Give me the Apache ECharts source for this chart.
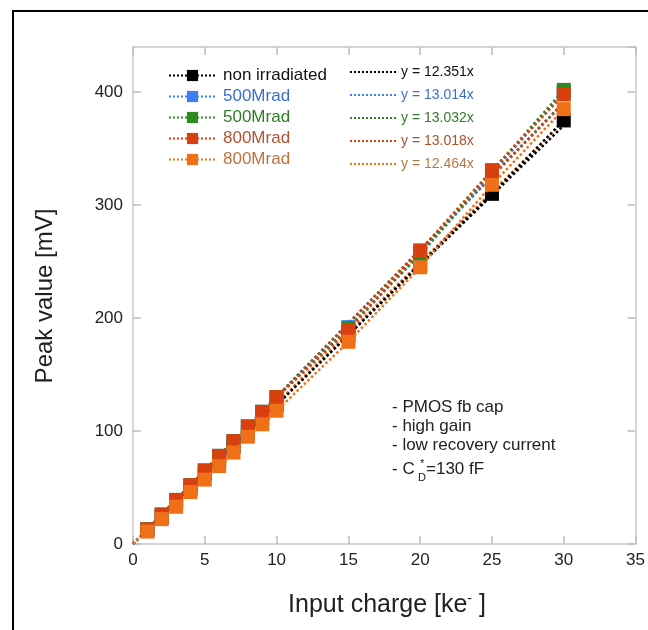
<!DOCTYPE html>
<html><head><meta charset="utf-8">
<script src="https://cdn.jsdelivr.net/npm/echarts@6/dist/echarts.min.js"></script>
<style>html,body{margin:0;padding:0;background:#fff}#c{width:648px;height:630px}</style>
</head><body><div id="c"></div>
<script>
const charges = [1,2,3,4,5,6,7,8,9,10,15,20,25,30];
const nonIrr   = [12,24,37,49,62,74,86,99,111,123,185,248,310,375];
const m500a    = [13,26,39,52,65,78,91,104,117,130,192,256,328,400];
const m500b    = [13,26,39,52,65,78,91,104,117,130,191,257,330,402];
const m800a    = [13,26,39,52,65,78,91,104,117,130,189,260,331,398];
const m800b    = [11,22,33,46,57,69,81,95,106,118,179,245,318,385];
const seriesNames = ['non irradiated','500Mrad','500Mrad ','800Mrad','800Mrad '];
const seriesColors = ['#000000','#3b7ff0','#2f8a22','#d9400f','#f07018'];
const textColors = ['#111111','#3a6fd0','#2f7d26','#b5532f','#c0703a'];
const fitLabels = ['y = 12.351x','y = 13.014x','y = 13.032x','y = 13.018x','y = 12.464x'];
const fitSlopes = [12.351,13.014,13.032,13.018,12.464];
const fitTextColors = ['#111111','#3a6fd0','#2f7d26','#b0502c','#b87a45'];
const xTicks = [0,5,10,15,20,25,30,35];
const yTicks = [0,100,200,300,400];

const FONT = 'Liberation Sans, Arial, sans-serif';
const allData = [nonIrr,m500a,m500b,m800a,m800b];
const chart = echarts.init(document.getElementById('c'));
const series = [];
allData.forEach((d,i)=>{
  series.push({
    name: seriesNames[i], type:'line', xAxisIndex:0, yAxisIndex:0,
    data: charges.map((x,j)=>[x,d[j]]),
    symbol:'rect', symbolSize:14,
    itemStyle:{color:seriesColors[i]},
    lineStyle:{color:seriesColors[i], type:'dotted', width:2.5},
    z: 3+i
  });
});
fitSlopes.forEach((s,i)=>{
  series.push({
    name: fitLabels[i], type:'line', xAxisIndex:0, yAxisIndex:0,
    data: [[0,0],[30,s*30]],
    symbol:'none', silent:true,
    lineStyle:{color:seriesColors[i], type:'dotted', width:2.5},
    itemStyle:{color:seriesColors[i]},
    z: 2
  });
});
const tickStyle = () => ({show:true, inside:true, length:8, lineStyle:{color:'#bdbdbd', width:1.5}});
const lineSt = () => ({show:true, onZero:false, lineStyle:{color:'#c8c8c8', width:1.5}});
chart.setOption({
  animation:false,
  textStyle:{fontFamily:FONT},
  grid: {left:133, top:47, right:11, bottom:86},
  xAxis:[
    {type:'value', min:xTicks[0], max:xTicks[xTicks.length-1], interval:5, position:'bottom',
     axisLine:lineSt(), axisTick:tickStyle(), splitLine:{show:false},
     axisLabel:{color:'#222', fontSize:17, margin:8}},
    {type:'value', min:xTicks[0], max:xTicks[xTicks.length-1], interval:5, position:'top',
     axisLine:lineSt(), axisTick:tickStyle(), splitLine:{show:false}, axisLabel:{show:false}}
  ],
  yAxis:[
    {type:'value', min:yTicks[0], max:440, interval:100, position:'left',
     axisLine:lineSt(), axisTick:tickStyle(), splitLine:{show:false},
     axisLabel:{color:'#222', fontSize:17, margin:10, showMaxLabel:false}},
    {type:'value', min:yTicks[0], max:440, interval:100, position:'right',
     axisLine:lineSt(), axisTick:tickStyle(), splitLine:{show:false}, axisLabel:{show:false, showMaxLabel:false}}
  ],
  legend:[
    {left:163, top:62, orient:'vertical', itemWidth:47, itemHeight:14, itemGap:4,
     data: seriesNames.map((n,i)=>({name:n, textStyle:{color:textColors[i], fontSize:17}})),
     textStyle:{fontSize:17, padding:[0,0,0,2]}, selectedMode:false},
    {left:344, top:60, orient:'vertical', itemWidth:46, itemHeight:10, itemGap:9,
     itemStyle:{opacity:0},
     data: fitLabels.map((n,i)=>({name:n, textStyle:{color:fitTextColors[i], fontSize:14}})),
     textStyle:{fontSize:14}, selectedMode:false}
  ],
  graphic:[
    {type:'rect', shape:{x:13, y:11, width:700, height:700}, style:{fill:'none', stroke:'#000', lineWidth:2}, silent:true},
    {type:'text', x:45, y:296, rotation:Math.PI/2, style:{text:'Peak value [mV]', fill:'#222', font:'24px '+FONT, align:'center', verticalAlign:'middle'}},
    {type:'text', x:387, y:605, style:{
      text:'{n|Input charge [ke}{s|-}{n| ]}', align:'center', verticalAlign:'middle',
      rich:{n:{fontSize:25, fill:'#222', fontFamily:FONT},
            s:{fontSize:14, fill:'#222', fontFamily:FONT, verticalAlign:'top', padding:[0,0,10,0]}}
    }},
    {type:'text', x:392, y:398, style:{text:'- PMOS fb cap\n- high gain\n- low recovery current', fill:'#222', font:'17px '+FONT, lineHeight:19}},
    {type:'text', x:392, y:461, style:{text:'- C', fill:'#222', font:'17px '+FONT}},
    {type:'text', x:418, y:472, style:{text:'D', fill:'#222', font:'11px '+FONT}},
    {type:'text', x:420, y:458, style:{text:'*', fill:'#222', font:'11px '+FONT}},
    {type:'text', x:426, y:461, style:{text:'=130 fF', fill:'#222', font:'17px '+FONT}}
  ],
  series: series
});
</script></body></html>
